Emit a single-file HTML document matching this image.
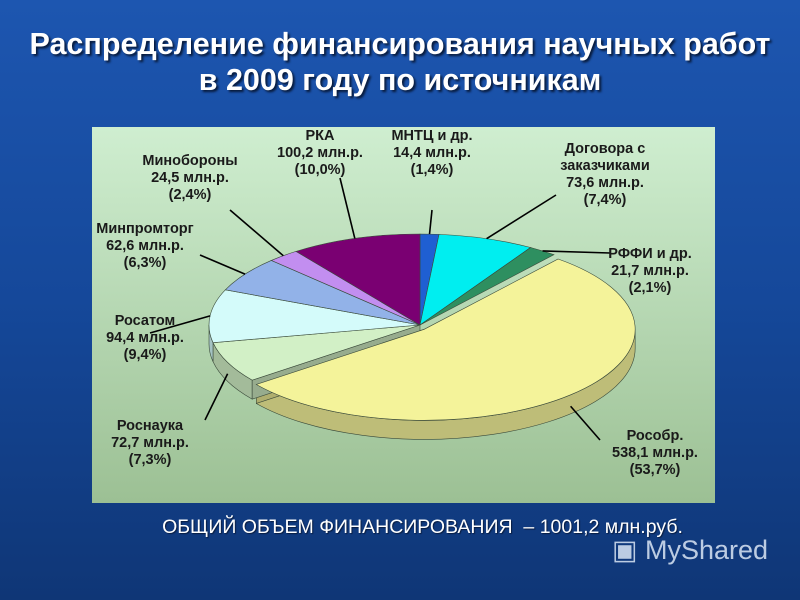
<!DOCTYPE html>
<html><head><meta charset="utf-8">
<style>
html,body{margin:0;padding:0;}
body{width:800px;height:600px;overflow:hidden;font-family:"Liberation Sans",sans-serif;
background:linear-gradient(180deg,#1d56b0 0%,#15489a 50%,#0f3676 100%);position:relative;}
.title{position:absolute;left:0;width:800px;text-align:center;color:#fff;font-weight:bold;font-size:30.5px;text-shadow:2px 2px 2px #081a3a;white-space:nowrap;}
.total{position:absolute;left:0;width:845px;top:516px;text-align:center;color:#fff;font-size:19.5px;text-shadow:1px 1px 1px #0a1d40;white-space:nowrap;}
.wm{position:absolute;left:612px;top:535px;color:#dbe6f5;font-size:27px;opacity:.85;white-space:nowrap;}
</style></head><body>
<div class="title" style="top:27px">Распределение финансирования научных работ</div>
<div class="title" style="top:63px">в 2009 году по источникам</div>
<svg width="800" height="600" style="position:absolute;left:0;top:0">
<defs><linearGradient id="bg" x1="0" y1="0" x2="0" y2="1"><stop offset="0" stop-color="#cfeed0"/><stop offset="1" stop-color="#9cc094"/></linearGradient></defs>
<rect x="92" y="127" width="623" height="376" fill="url(#bg)"/>
<g id="g"></g>
</svg>
<div class="total">ОБЩИЙ ОБЪЕМ ФИНАНСИРОВАНИЯ &nbsp;– 1001,2 млн.руб.</div>
<div class="wm">▣ MyShared</div>
<script>
const categories=["МНТЦ и др.","Договора с заказчиками","РФФИ и др.","Рособр.","Роснаука","Росатом","Минпромторг","Минобороны","РКА"];
const values=[14.4,73.6,21.7,538.1,72.7,94.4,62.6,24.5,100.2];
const percents=["1,4%","7,4%","2,1%","53,7%","7,3%","9,4%","6,3%","2,4%","10,0%"];
const colors=["#1f5fd2","#00eef0","#2e8f60","#f4f39a","#d2f0c6","#d4fbfa","#92b2e8","#c28ef0","#7a0072"];
const NS="http://www.w3.org/2000/svg";
const g=document.getElementById('g');
const cx=420,cy=325,rx=211,ry=91,D=19;
const total=values.reduce((a,b)=>a+b,0);
function pt(t,dx,dy,dd){return [cx+dx+rx*Math.cos(t),cy+dy+ry*Math.sin(t)+(dd||0)];}
function dark(c,f){const n=parseInt(c.slice(1),16);let r=(n>>16)*f,gg=((n>>8)&255)*f,b=(n&255)*f;return `rgb(${r|0},${gg|0},${b|0})`;}
let slices=[],a=-Math.PI/2;
values.forEach((v,i)=>{const b=a+v/total*2*Math.PI;const mid=(a+b)/2;const ex=i===3?6:0;slices.push({a,b,dx:ex*Math.cos(mid),dy:ex*Math.sin(mid),i});a=b;});
function mk(d,fill,name){const p=document.createElementNS(NS,'path');p.setAttribute('d',d);p.setAttribute('fill',fill);p.setAttribute('stroke','#3a4a3a');p.setAttribute('stroke-width','0.6');


g.appendChild(p);}
slices.forEach(s=>{
 let ranges=[[0,Math.PI],[2*Math.PI,3*Math.PI]];
 ranges.forEach(([lo,hi])=>{const s0=Math.max(s.a,lo),s1=Math.min(s.b,hi);if(s1<=s0)return;
  const p0=pt(s0,s.dx,s.dy),p1=pt(s1,s.dx,s.dy),q1=pt(s1,s.dx,s.dy,D),q0=pt(s0,s.dx,s.dy,D);
  const lg=(s1-s0)>Math.PI?1:0;
  mk(`M${p0}A${rx},${ry} 0 ${lg} 1 ${p1}L${q1}A${rx},${ry} 0 ${lg} 0 ${q0}Z`,dark(colors[s.i],0.78),'slice-side-'+s.i);});
 if(s.i===3||s.i===4){const t=s.i===3?s.b:s.a;const c0=[cx+s.dx,cy+s.dy],p=pt(t,s.dx,s.dy);
  mk(`M${c0}L${p}L${p[0]},${p[1]+D}L${c0[0]},${c0[1]+D}Z`,dark(colors[s.i],0.72),'slice-face-'+s.i);}
});
slices.forEach(s=>{const c0=[cx+s.dx,cy+s.dy],p0=pt(s.a,s.dx,s.dy),p1=pt(s.b,s.dx,s.dy);const lg=(s.b-s.a)>Math.PI?1:0;
 mk(`M${c0}L${p0}A${rx},${ry} 0 ${lg} 1 ${p1}Z`,colors[s.i],'slice-'+s.i);});
const labelPos=[[432,140,"middle"],[605,153,"middle"],[650,258,"middle"],[655,440,"middle"],[150,430,"middle"],[145,325,"middle"],[145,233,"middle"],[190,165,"middle"],[320,140,"middle"]];
const leaderEnd=[[432,210],[556,195],[610,253],[600,440],[205,420],[150,333],[200,255],[230,210],[340,178]];
slices.forEach((s,k)=>{const i=s.i;const mid=(s.a+s.b)/2;const e=pt(mid,s.dx,s.dy, i===3||i===4?D*0.6:0);
 const L=document.createElementNS(NS,'line');const le=leaderEnd[i];
 L.setAttribute('x1',e[0]);L.setAttribute('y1',e[1]);L.setAttribute('x2',le[0]);L.setAttribute('y2',le[1]);L.setAttribute('stroke','#000');L.setAttribute('stroke-width','1.6');
 
 
 g.appendChild(L);
 const v=values[i].toFixed(1).replace('.',',');
 let lines=[categories[i],v+" млн.р.","("+percents[i]+")"];
 if(i===1)lines=["Договора с","заказчиками",v+" млн.р.","("+percents[i]+")"];
 const T=document.createElementNS(NS,'text');T.setAttribute('x',labelPos[i][0]);T.setAttribute('y',labelPos[i][1]);T.setAttribute('text-anchor',labelPos[i][2]);
 T.setAttribute('font-size','14.5');T.setAttribute('font-weight','bold');T.setAttribute('fill','#1a1a1a');T.setAttribute('font-family','Liberation Sans, sans-serif');
 
 
 lines.forEach((ln,j)=>{const ts=document.createElementNS(NS,'tspan');ts.setAttribute('x',labelPos[i][0]);ts.setAttribute('dy',j?17:0);ts.textContent=ln;T.appendChild(ts);});
 g.appendChild(T);});
</script>
</body></html>
